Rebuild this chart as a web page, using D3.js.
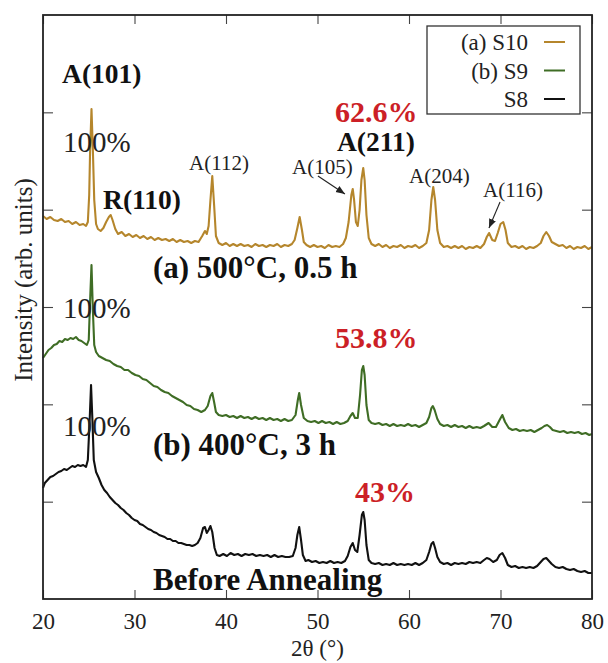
<!DOCTYPE html>
<html><head><meta charset="utf-8">
<script src="https://cdn.jsdelivr.net/npm/d3@7"></script>
<style>body{margin:0;background:#fff}</style>
</head><body><svg id="c" width="608" height="663"></svg>
<script>
// ---- data ----
const seriesNames = ["(a) S10", "(b) S9", "S8"];
const xTickLabels = [20, 30, 40, 50, 60, 70, 80];
const yTickCount = 6;
// 2θ (°), intensity (arb. units, offset stacked)
const s10 = [[20.0,383],[20.4,380],[20.8,382],[21.2,379],[21.6,378],[22.0,380],[22.4,377],[22.8,378],[23.2,375],[23.6,377],[24.0,374],[24.4,375],[24.7,373],[24.9,377],[25.05,404],[25.15,449],[25.3,490],[25.45,449],[25.6,399],[25.8,375],[26.0,370],[26.3,368],[26.6,371],[26.9,377],[27.2,382],[27.4,384],[27.6,379],[27.9,370],[28.2,365],[28.6,367],[29.0,363],[29.4,365],[29.8,362],[30.2,364],[30.6,361],[31.0,363],[31.4,360],[31.8,362],[32.2,359],[32.6,361],[33.0,359],[33.4,360],[33.8,358],[34.2,360],[34.6,357],[35.0,359],[35.4,357],[35.8,358],[36.2,356],[36.6,358],[37.0,357],[37.4,363],[37.7,368],[37.9,365],[38.1,373],[38.3,399],[38.5,423],[38.7,394],[38.9,363],[39.2,356],[39.6,354],[40.0,356],[40.4,353],[40.8,355],[41.2,353],[41.6,355],[42.0,353],[42.4,354],[42.8,352],[43.2,355],[43.6,353],[44.0,354],[44.4,352],[44.8,354],[45.2,353],[45.6,355],[46.0,352],[46.4,354],[46.8,353],[47.2,355],[47.5,359],[47.8,371],[48.05,382],[48.3,369],[48.5,357],[48.8,354],[49.2,352],[49.6,354],[50.0,352],[50.4,353],[50.8,351],[51.2,354],[51.6,352],[52.0,353],[52.4,352],[52.8,355],[53.1,361],[53.4,377],[53.7,404],[53.85,410],[54.0,399],[54.2,377],[54.4,373],[54.6,389],[54.8,419],[55.0,431],[55.15,419],[55.35,384],[55.6,361],[55.9,355],[56.3,353],[56.7,355],[57.1,352],[57.5,354],[57.9,351],[58.3,353],[58.7,352],[59.1,354],[59.5,351],[59.9,353],[60.3,352],[60.7,354],[61.1,351],[61.5,353],[61.9,356],[62.2,369],[62.45,399],[62.65,412],[62.85,399],[63.1,369],[63.4,356],[63.8,352],[64.2,353],[64.6,351],[65.0,353],[65.4,351],[65.8,353],[66.2,350],[66.6,352],[67.0,351],[67.4,353],[67.8,351],[68.2,355],[68.5,362],[68.75,366],[69.1,359],[69.4,358],[69.7,366],[70.0,375],[70.3,377],[70.55,369],[70.8,356],[71.2,352],[71.6,353],[72.0,351],[72.4,353],[72.8,350],[73.2,352],[73.6,351],[74.0,353],[74.4,356],[74.7,363],[75.0,367],[75.3,363],[75.6,357],[76.0,355],[76.4,353],[76.8,354],[77.2,351],[77.6,353],[78.0,350],[78.4,352],[78.8,351],[79.2,353],[79.6,350],[80.0,352]];
const s9 = [[20.0,241],[20.3,245],[20.6,249],[20.9,251],[21.2,254],[21.5,255],[21.8,258],[22.1,257],[22.4,260],[22.7,259],[23.0,261],[23.3,260],[23.6,262],[23.9,259],[24.2,258],[24.5,256],[24.8,254],[25.0,259],[25.15,299],[25.3,334],[25.45,289],[25.6,254],[25.8,247],[26.1,243],[26.5,241],[26.9,239],[27.3,238],[27.7,235],[28.1,233],[28.5,232],[28.9,229],[29.3,229],[29.7,226],[30.1,224],[30.5,223],[30.9,220],[31.3,219],[31.7,216],[32.1,213],[32.5,212],[32.9,209],[33.3,207],[33.7,206],[34.1,203],[34.5,201],[34.9,199],[35.3,197],[35.7,194],[36.1,193],[36.5,190],[36.9,189],[37.3,187],[37.7,189],[38.0,193],[38.3,203],[38.5,206],[38.7,197],[38.9,187],[39.2,184],[39.6,183],[40.0,184],[40.4,182],[40.8,183],[41.2,181],[41.6,183],[42.0,181],[42.4,182],[42.8,180],[43.2,182],[43.6,180],[44.0,181],[44.4,179],[44.8,181],[45.2,179],[45.6,180],[46.0,178],[46.4,180],[46.8,178],[47.2,179],[47.6,184],[47.85,199],[48.0,206],[48.2,194],[48.5,181],[48.9,178],[49.3,177],[49.7,178],[50.1,176],[50.5,178],[50.9,176],[51.3,177],[51.7,175],[52.1,177],[52.5,175],[52.9,176],[53.3,178],[53.6,183],[53.85,186],[54.1,181],[54.4,181],[54.65,204],[54.85,229],[55.0,233],[55.15,224],[55.35,194],[55.6,179],[55.9,176],[56.3,175],[56.7,176],[57.1,174],[57.5,175],[57.9,173],[58.3,175],[58.7,173],[59.1,174],[59.5,173],[59.9,175],[60.3,173],[60.7,174],[61.1,172],[61.5,174],[61.9,176],[62.2,182],[62.45,191],[62.6,193],[62.8,189],[63.1,180],[63.4,175],[63.8,173],[64.2,174],[64.6,172],[65.0,174],[65.4,172],[65.8,173],[66.2,171],[66.6,173],[67.0,171],[67.4,172],[67.8,171],[68.2,173],[68.7,176],[69.1,172],[69.5,172],[69.9,179],[70.2,184],[70.5,177],[70.9,171],[71.3,169],[71.7,170],[72.1,168],[72.5,169],[72.9,168],[73.3,169],[73.7,167],[74.1,169],[74.5,171],[74.8,173],[75.1,174],[75.4,172],[75.7,169],[76.1,168],[76.5,167],[76.9,168],[77.3,166],[77.7,167],[78.1,166],[78.5,167],[78.9,165],[79.3,166],[79.7,164],[80.0,165]];
const s8 = [[20.0,111],[20.2,116],[20.5,119],[20.8,122],[21.1,123],[21.4,125],[21.7,127],[22.0,128],[22.3,130],[22.6,129],[22.9,131],[23.2,133],[23.5,132],[23.8,134],[24.1,133],[24.4,134],[24.7,132],[24.9,139],[25.1,179],[25.25,214],[25.4,179],[25.55,139],[25.8,127],[26.1,121],[26.4,114],[26.7,109],[27.0,106],[27.3,102],[27.6,99],[27.9,96],[28.2,94],[28.5,91],[28.8,89],[29.1,86],[29.4,84],[29.7,81],[30.0,79],[30.3,78],[30.6,75],[30.9,74],[31.2,72],[31.5,70],[31.8,69],[32.1,67],[32.4,66],[32.7,64],[33.0,63],[33.3,62],[33.6,60],[33.9,60],[34.2,58],[34.5,58],[34.8,56],[35.1,56],[35.4,55],[35.7,54],[36.0,54],[36.3,53],[36.6,54],[36.9,56],[37.2,61],[37.5,71],[37.7,72],[37.9,66],[38.1,69],[38.3,73],[38.5,67],[38.75,51],[39.0,44],[39.3,43],[39.7,45],[40.1,43],[40.5,46],[40.9,44],[41.3,45],[41.7,43],[42.1,45],[42.5,44],[42.9,45],[43.3,43],[43.7,44],[44.1,43],[44.5,44],[44.9,42],[45.3,44],[45.7,42],[46.1,43],[46.5,42],[46.9,42],[47.3,43],[47.6,51],[47.8,64],[48.0,72],[48.2,59],[48.4,44],[48.7,38],[49.0,39],[49.4,37],[49.8,38],[50.2,36],[50.6,37],[51.0,36],[51.4,38],[51.8,36],[52.2,37],[52.6,36],[53.0,38],[53.3,43],[53.6,52],[53.85,56],[54.1,49],[54.35,47],[54.6,64],[54.85,84],[55.0,87],[55.15,79],[55.35,54],[55.6,39],[55.9,36],[56.3,35],[56.7,36],[57.1,34],[57.5,35],[57.9,34],[58.3,36],[58.7,34],[59.1,35],[59.5,34],[59.9,35],[60.3,34],[60.7,36],[61.1,34],[61.5,36],[61.9,39],[62.2,47],[62.45,55],[62.65,57],[62.85,51],[63.1,42],[63.4,37],[63.8,35],[64.2,36],[64.6,34],[65.0,36],[65.4,35],[65.8,36],[66.2,35],[66.6,37],[67.0,36],[67.4,37],[67.8,36],[68.2,39],[68.5,41],[68.8,40],[69.2,37],[69.6,39],[69.9,44],[70.2,46],[70.5,41],[70.8,34],[71.2,32],[71.6,33],[72.0,31],[72.4,32],[72.8,31],[73.2,32],[73.6,31],[74.0,33],[74.4,37],[74.7,40],[75.0,41],[75.3,38],[75.6,35],[76.0,32],[76.4,31],[76.8,32],[77.2,30],[77.6,29],[78.0,30],[78.4,28],[78.8,27],[79.2,28],[79.6,26],[80.0,26]];
const yMax = 584;

// ---- layout / style ----
const FONT = '"Liberation Serif", "Times New Roman", serif';
const colors = ["#b5862c", "#3f6d25", "#111111"];
const red = "#cc1f27";
const svg = d3.select("#c");
const x = d3.scaleLinear().domain([20, 80]).range([43, 592]);
const y = d3.scaleLinear().domain([0, yMax]).range([599, 15]);
const yTicks = d3.range(1, yTickCount).map(k => k * yMax / yTickCount);

const defs = svg.append("defs");
defs.append("marker").attr("id","ah").attr("viewBox","0 0 10 10").attr("refX",10).attr("refY",5)
  .attr("markerWidth",9).attr("markerHeight",9).attr("markerUnits","userSpaceOnUse").attr("orient","auto")
  .append("path").attr("d","M0,1 L10,5 L0,9 Z").attr("fill","#222");

const line = d3.line().x(d => x(d[0])).y(d => y(d[1]));
[s10, s9, s8].forEach((s, i) => {
  svg.append("path").datum(s).attr("d", line).attr("fill","none")
    .attr("stroke", colors[i]).attr("stroke-width", 2.1).attr("stroke-linejoin","round");
});

// axes
function styleAxis(g){
  g.select(".domain").remove();
  g.selectAll(".tick line").attr("stroke","#444").attr("stroke-width",1.1);
  g.selectAll("text").style("font-family", FONT).style("font-size","23px").attr("fill","#222");
}
svg.append("g").attr("transform","translate(0,599)")
  .call(d3.axisBottom(x).tickValues(xTickLabels).tickSizeInner(-9).tickSizeOuter(0).tickPadding(14).tickFormat(d3.format("d")))
  .call(styleAxis);
svg.append("g").attr("transform","translate(0,15)")
  .call(d3.axisTop(x).tickValues(xTickLabels).tickSizeInner(-9).tickSizeOuter(0).tickFormat(""))
  .call(styleAxis);
svg.append("g").attr("transform","translate(43,0)")
  .call(d3.axisLeft(y).tickValues(yTicks).tickSizeInner(-10).tickSizeOuter(0).tickFormat(""))
  .call(styleAxis);
svg.append("g").attr("transform","translate(592,0)")
  .call(d3.axisRight(y).tickValues(yTicks).tickSizeInner(-10).tickSizeOuter(0).tickFormat(""))
  .call(styleAxis);
svg.append("rect").attr("x",x(20)).attr("y",y(yMax)).attr("width",x(80)-x(20)).attr("height",y(0)-y(yMax))
  .attr("fill","none").attr("stroke","#222").attr("stroke-width",1.8);

function txt(sel){ return sel.style("font-family", FONT); }
txt(svg.append("text")).attr("x",(x(20)+x(80))/2).attr("y",656).attr("text-anchor","middle")
  .style("font-size","23px").attr("fill","#222").text("2θ (°)");
txt(svg.append("text")).attr("transform","translate(32,280) rotate(-90)").attr("text-anchor","middle")
  .style("font-size","25px").attr("fill","#222").text("Intensity (arb. units)");

// annotations (positions in data coordinates)
const notes = [
  {t:"A(101)", x:22.08, y:516, s:27.5, w:"bold", c:"#111"},
  {t:"100%", x:22.19, y:447, s:29, w:"normal", c:"#222"},
  {t:"R(110)", x:26.56, y:390, s:27.5, w:"bold", c:"#111"},
  {t:"A(112)", x:35.96, y:429, s:21, w:"normal", c:"#222"},
  {t:"62.6%", x:51.91, y:477, s:30, w:"bold", c:red},
  {t:"A(211)", x:52.13, y:448, s:27.5, w:"bold", c:"#111"},
  {t:"A(105)", x:47.21, y:425, s:21, w:"normal", c:"#222"},
  {t:"A(204)", x:60.0, y:416, s:21, w:"normal", c:"#222"},
  {t:"A(116)", x:68.09, y:402, s:21, w:"normal", c:"#222"},
  {t:"(a) 500°C, 0.5 h", x:32.02, y:321, s:31, w:"bold", c:"#111"},
  {t:"100%", x:22.19, y:281, s:29, w:"normal", c:"#222"},
  {t:"53.8%", x:51.91, y:251, s:30, w:"bold", c:red},
  {t:"100%", x:22.19, y:163, s:29, w:"normal", c:"#222"},
  {t:"(b) 400°C, 3 h", x:32.02, y:144, s:31, w:"bold", c:"#111"},
  {t:"43%", x:54.1, y:97, s:30, w:"bold", c:red},
  {t:"Before Annealing", x:32.02, y:9, s:31, w:"bold", c:"#111"}
];
notes.forEach(n => txt(svg.append("text")).attr("x",x(n.x)).attr("y",y(n.y)).style("font-size",n.s+"px")
  .style("font-weight",n.w).attr("fill",n.c).text(n.t));
const arrows = [[50.05,423,53.0,405],[69.95,397,68.74,371]];
arrows.forEach(a => svg.append("line").attr("x1",x(a[0])).attr("y1",y(a[1])).attr("x2",x(a[2])).attr("y2",y(a[3]))
  .attr("stroke","#222").attr("stroke-width",1.1).attr("marker-end","url(#ah)"));

// legend
const lg = svg.append("g");
lg.append("rect").attr("x",427).attr("y",26).attr("width",153).attr("height",88).attr("fill","#fff")
  .attr("stroke","#333").attr("stroke-width",1.3);
seriesNames.forEach((nm, i) => {
  const cy = 42 + i * 28.5;
  txt(lg.append("text")).attr("x",528).attr("y",cy + 8).attr("text-anchor","end").style("font-size","23px")
    .attr("fill","#222").text(nm);
  lg.append("line").attr("x1",544).attr("x2",565).attr("y1",cy).attr("y2",cy)
    .attr("stroke",colors[i]).attr("stroke-width",2);
});
</script></body></html>
